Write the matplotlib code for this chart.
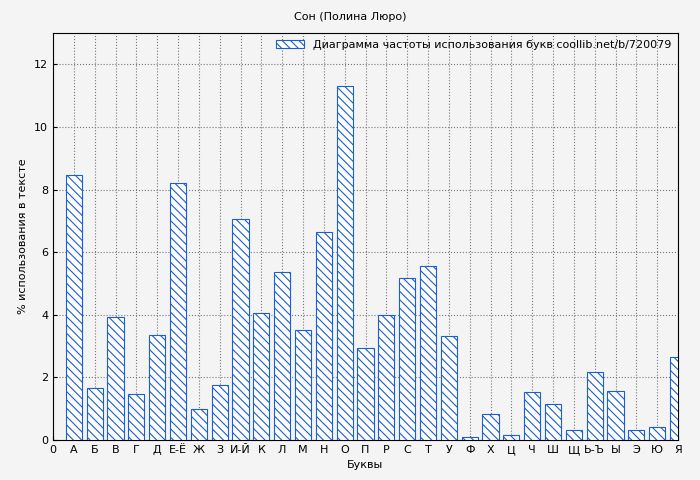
import matplotlib
matplotlib.use("Agg")
import matplotlib.pyplot as plt

letters = ["А","Б","В","Г","Д","Е-Ё","Ж","З","И-Й","К","Л","М","Н","О","П","Р","С","Т","У","Ф","Х","Ц","Ч","Ш","Щ","Ь-Ъ","Ы","Э","Ю","Я"]
values = [8.46,1.66,3.93,1.47,3.35,8.2,0.99,1.76,7.05,4.05,5.36,3.51,6.64,11.3,2.94,3.99,5.17,5.55,3.32,0.1,0.83,0.16,1.53,1.15,0.32,2.17,1.56,0.32,0.41,2.65]

plt.rcParams['hatch.color'] = '#1a5fd0'
plt.rcParams['hatch.linewidth'] = 0.8
fig = plt.figure(figsize=(7, 4.8), dpi=100, facecolor='#f4f4f4')
ax = fig.add_axes([53/700, 40/480, 625/700, 407/480], facecolor='#f4f4f4')
pos = list(range(1, len(letters)+1))
ax.bar(pos, values, width=0.78, color='white', edgecolor='#1a5fd0', hatch='\\\\\\\\', linewidth=0.8,
       label='Диаграмма частоты использования букв coollib.net/b/720079', zorder=3)
ax.set_xlim(0, 30)
ax.set_ylim(0, 13)
ax.set_xticks([0]+pos)
ax.set_xticklabels(["0"]+letters, fontsize=8)
ax.set_yticks(range(0, 13, 2))
ax.tick_params(labelsize=8, direction='in', length=3)
ax.grid(True, linestyle=':', color='#777777', linewidth=0.8, zorder=0)
ax.set_xlabel('Буквы', fontsize=8)
ax.set_ylabel('% использования в тексте', fontsize=8)
fig.suptitle('Сон (Полина Люро)', fontsize=8, y=0.975)
ax.legend(loc='upper right', fontsize=8, frameon=False, handlelength=2.5, borderaxespad=0.2)
fig.savefig('out.png', dpi=100, facecolor='#f4f4f4')
